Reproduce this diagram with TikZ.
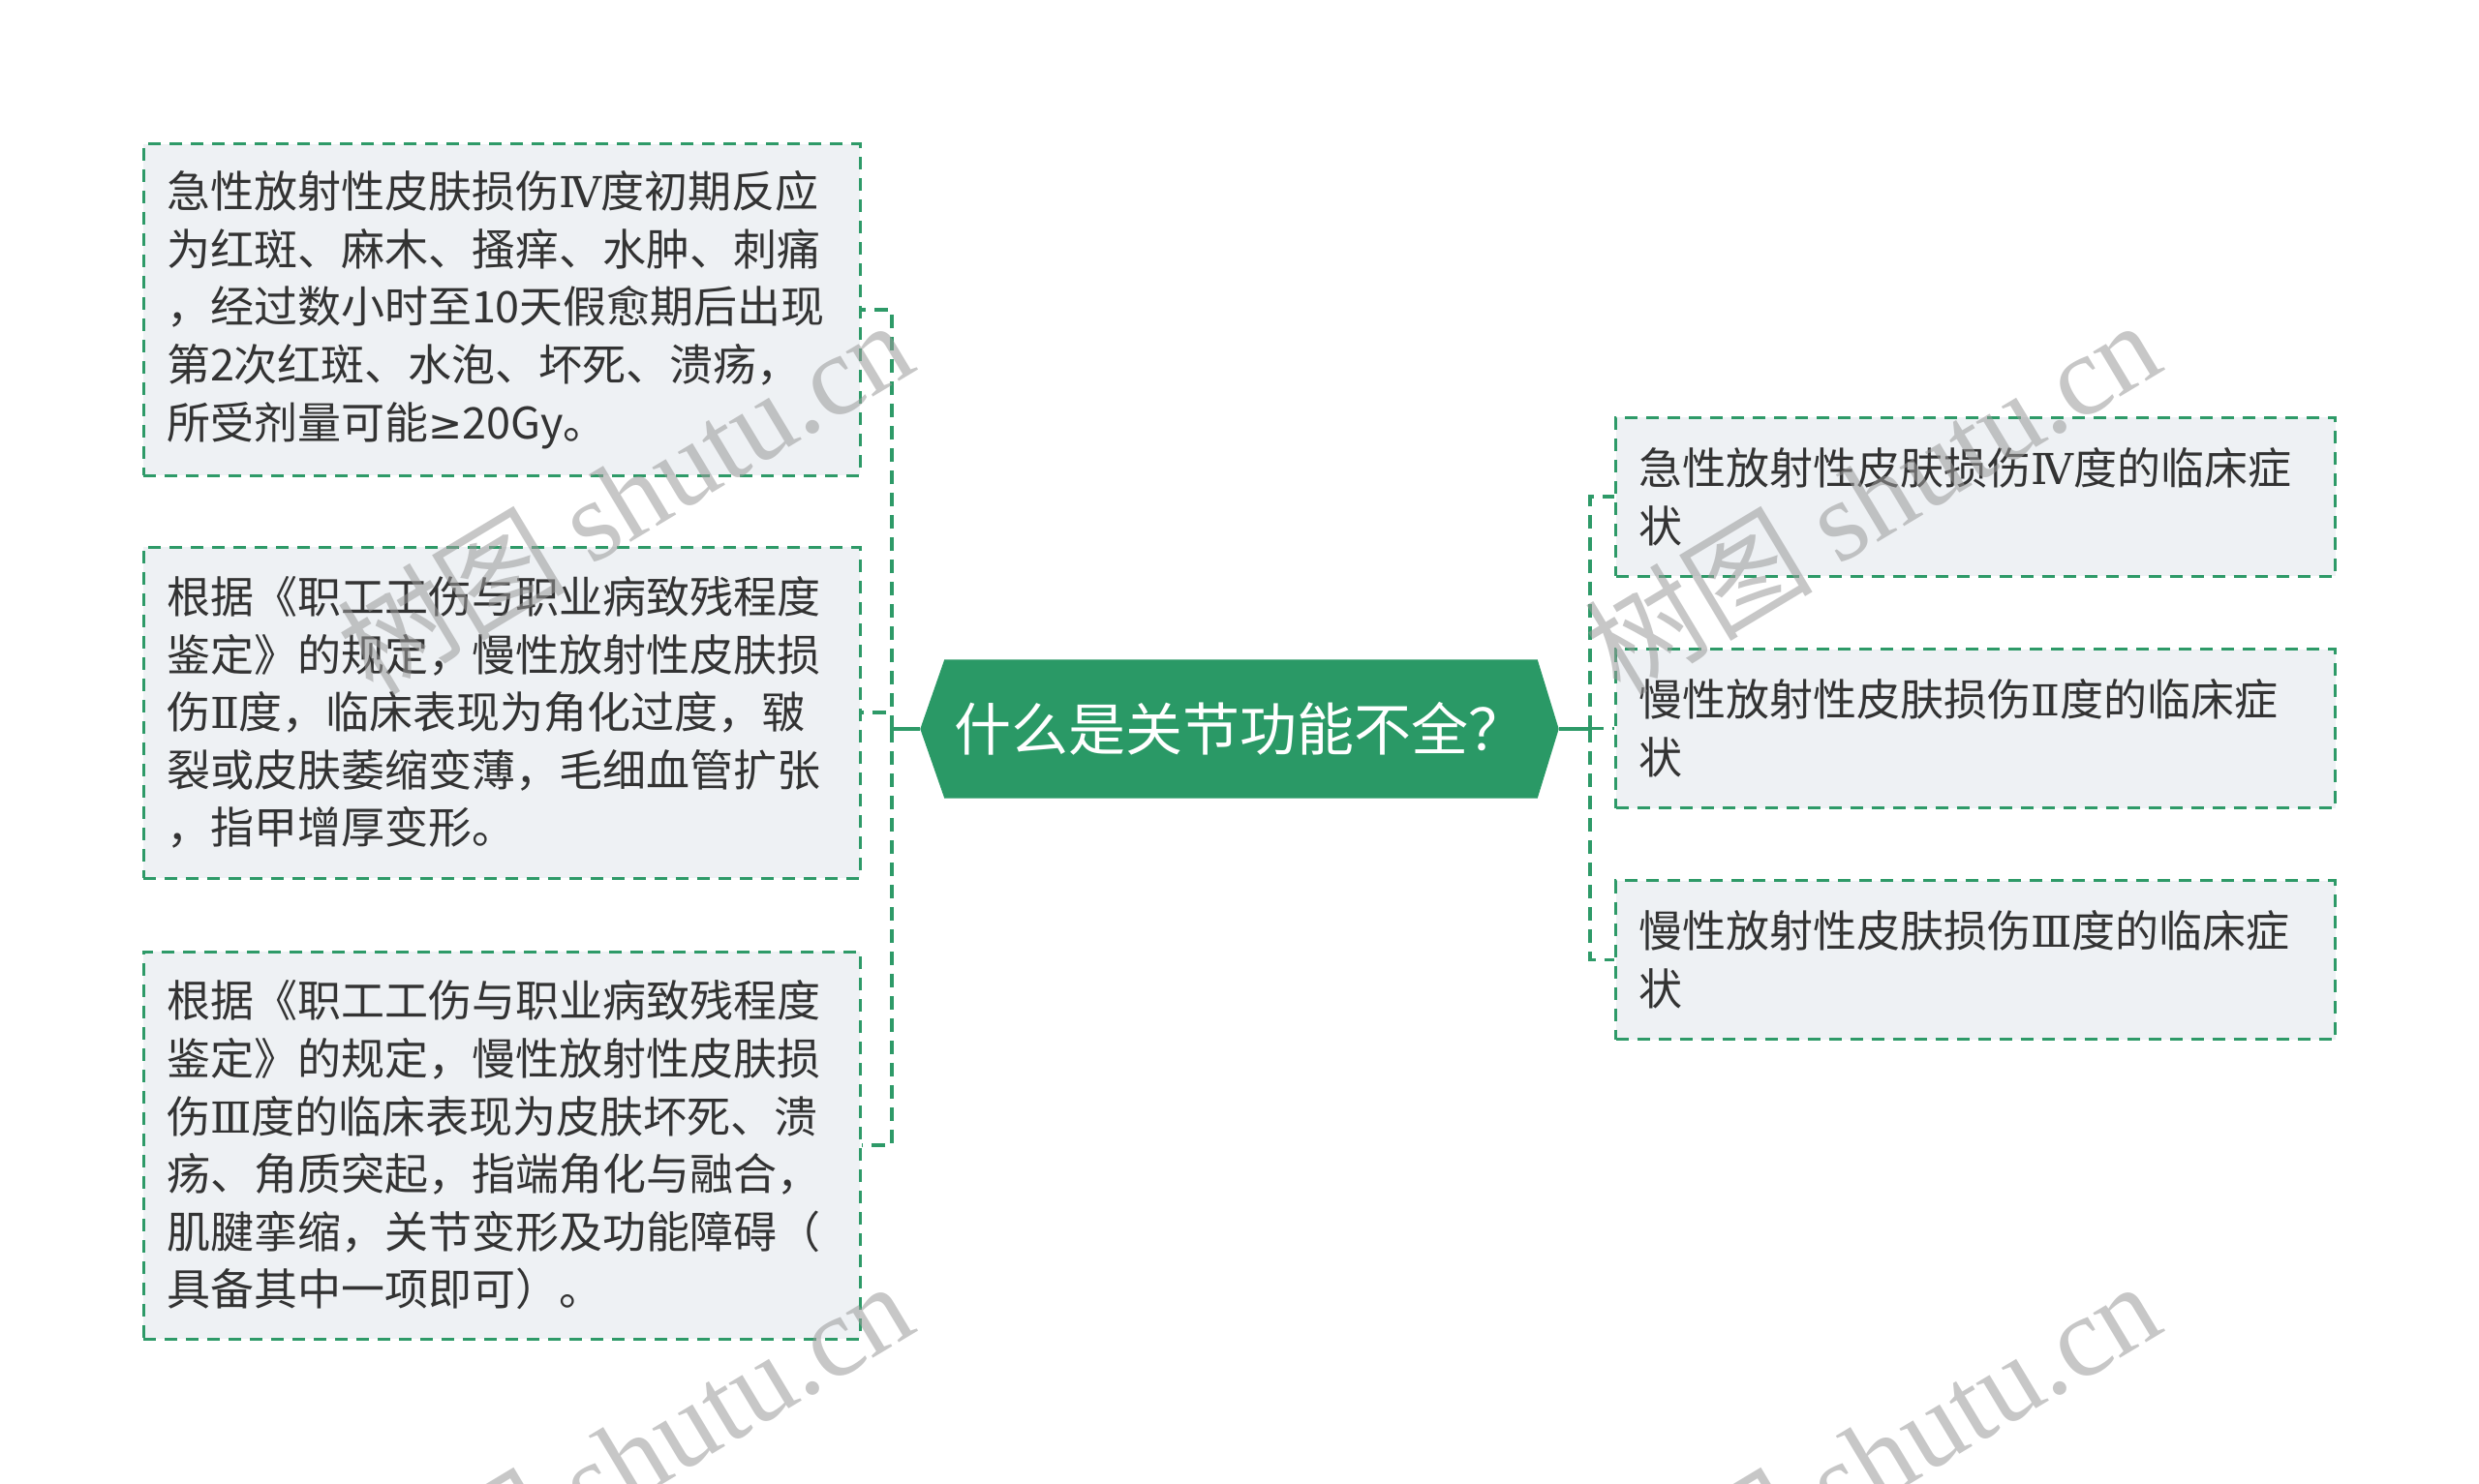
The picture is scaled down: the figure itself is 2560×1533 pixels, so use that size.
\documentclass[tikz,border=0pt]{standalone}
\usepackage{fontspec}
\setmainfont{Noto Sans CJK SC}
\newfontfamily\wmserif{Liberation Serif}
\newfontfamily\symfont{DejaVu Sans}
\newfontfamily\romfont{DejaVu Serif}
\usetikzlibrary{calc,backgrounds}
\definecolor{lineg}{HTML}{2E9A68}
\definecolor{rootg}{HTML}{2A9966}
\definecolor{boxfill}{HTML}{EEF1F4}
\definecolor{txt}{HTML}{333333}
\definecolor{wmgray}{HTML}{9A9A9A}
\newcommand{\rIV}{{\romfont\fontsize{44}{59.6}\selectfont Ⅳ}}
\newcommand{\rII}{{\romfont\fontsize{44}{59.6}\selectfont Ⅱ}}
\newcommand{\rIII}{{\romfont\fontsize{44}{59.6}\selectfont Ⅲ}}
\begin{document}
\begin{tikzpicture}[x=1pt,y=-1pt,
  leafbox/.style={draw=lineg, line width=3pt, dash pattern=on 13pt off 9pt,
    fill=boxfill, text=txt, align=left, inner sep=0pt,
    font=\fontsize{45}{59.6}\selectfont},
  leftbox/.style={leafbox, minimum width=740pt, text width=692pt},
  rightbox/.style={leafbox, minimum width=743pt, minimum height=164pt, text width=695pt},
  dashc/.style={draw=lineg, line width=3.5pt, dash pattern=on 14pt off 9pt},
  solidc/.style={draw=lineg, line width=4.5pt},
  wmark/.style={rotate=31, text=wmgray, opacity=0.55, inner sep=0pt,
    font=\fontsize{118}{124}\selectfont}
]
\useasboundingbox (0,0) rectangle (2560,1533);

% central node
\node[text=white, inner sep=0pt, minimum width=659pt, minimum height=143pt,
  font=\fontsize{59}{62}\selectfont] (root) at (1280,753) {什么是关节功能不全？};
\begin{scope}[on background layer]
\fill[white] (0,0) rectangle (2560,1533);
\fill[rootg] (root.west) -- ($(root.north west)+(25,0)$) -- ($(root.north east)+(-22,0)$)
  -- (root.east) -- ($(root.south east)+(-22,0)$) -- ($(root.south west)+(25,0)$) -- cycle;
\end{scope}

% left boxes
\node[leftbox, minimum height=342pt] (l1) at (518,320) {急性放射性皮肤损伤\rIV 度初期反应\\为红斑、麻木、搔痒、水肿、刺痛\\，经过数小时至10天假愈期后出现\\第2次红斑、水泡、坏死、溃疡，\\所受剂量可能{\symfont\fontsize{42}{59.6}\selectfont ≥}20Gy。};
\node[leftbox, minimum height=342pt] (l2) at (518,736) {根据《职工工伤与职业病致残程度\\鉴定》的规定，慢性放射性皮肤损\\伤\rII 度，临床表现为角化过度，皲\\裂或皮肤萎缩变薄，毛细血管扩张\\，指甲增厚变形。};
\node[leftbox, minimum height=400pt] (l3) at (518,1183) {根据《职工工伤与职业病致残程度\\鉴定》的规定，慢性放射性皮肤损\\伤\rIII 度的临床表现为皮肤坏死、溃\\疡、角质突起，指端角化与融合，\\肌腱挛缩，关节变形及功能障碍（\\具备其中一项即可）。};

% right boxes
\node[rightbox] (r1) at (2040,513) {急性放射性皮肤损伤\rIV 度的临床症\\状};
\node[rightbox] (r2) at (2040,752.5) {慢性放射性皮肤损伤\rII 度的临床症\\状};
\node[rightbox] (r3) at (2040,991.5) {慢性放射性皮肤损伤\rIII 度的临床症\\状};

% connectors
\coordinate (lbus) at (921,753);
\coordinate (rbus) at (1642,753);
\draw[solidc] (root.west) -- (lbus);
\draw[solidc] (root.east) -- (rbus);
\draw[dashc] (lbus) |- (l1.east);
\draw[dashc] (lbus) |- (l2.east);
\draw[dashc] (lbus) |- (l3.east);
\draw[dashc] (rbus) |- (r1.west);
\draw[dashc] (rbus) |- (r2.west);
\draw[dashc] (rbus) |- (r3.west);

% watermarks
\begin{scope}
\clip (0,0) rectangle (2560,1533);
\node[wmark] (w1) at (645,512) {树图 {\wmserif shutu.cn}};
\node[wmark] (w2) at (1933,512) {树图 {\wmserif shutu.cn}};
\node[wmark] (w3) at (645,1505) {树图 {\wmserif shutu.cn}};
\node[wmark] (w4) at (1933,1505) {树图 {\wmserif shutu.cn}};
\end{scope}
\end{tikzpicture}
\end{document}
